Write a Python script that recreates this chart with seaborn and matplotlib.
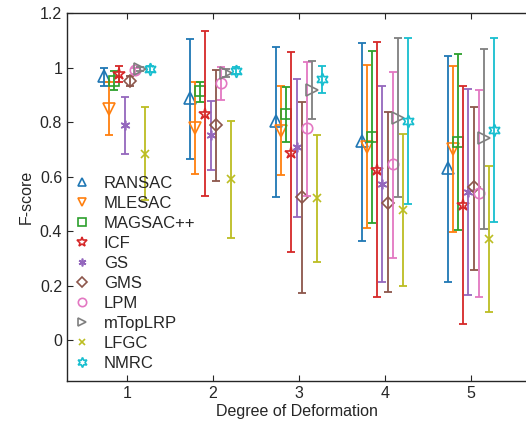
import numpy as np
import matplotlib
matplotlib.use("Agg")
import matplotlib.pyplot as plt
import seaborn as sns
from matplotlib.lines import Line2D

degrees = [1, 2, 3, 4, 5]
methods = ["RANSAC", "MLESAC", "MAGSAC++", "ICF", "GS", "GMS", "LPM", "mTopLRP", "LFGC", "NMRC"]

ransac_mid = [0.969, 0.888, 0.804, 0.730, 0.631]
ransac_lo = [0.932, 0.664, 0.525, 0.363, 0.213]
ransac_hi = [0.998, 1.104, 1.075, 1.090, 1.042]
mlesac_mid = [0.848, 0.778, 0.767, 0.708, 0.701]
mlesac_lo = [0.752, 0.609, 0.605, 0.411, 0.396]
mlesac_hi = [0.947, 0.947, 0.932, 1.009, 1.006]
magsac_mid = [0.950, 0.914, 0.829, 0.745, 0.727]
magsac_lo = [0.917, 0.873, 0.727, 0.429, 0.404]
magsac_hi = [0.987, 0.947, 0.928, 1.060, 1.050]
icf_mid = [0.976, 0.829, 0.686, 0.624, 0.495]
icf_lo = [0.947, 0.528, 0.323, 0.158, 0.059]
icf_hi = [1.005, 1.134, 1.057, 1.094, 0.932]
gs_mid = [0.788, 0.752, 0.708, 0.572, 0.543]
gs_lo = [0.683, 0.624, 0.451, 0.213, 0.165]
gs_hi = [0.892, 0.877, 0.958, 0.932, 0.921]
gms_mid = [0.950, 0.789, 0.525, 0.503, 0.561]
gms_lo = [0.932, 0.585, 0.172, 0.176, 0.257]
gms_hi = [0.969, 0.991, 0.873, 0.837, 0.855]
lpm_mid = [0.991, 0.943, 0.778, 0.646, 0.539]
lpm_lo = [0.976, 0.881, 0.528, 0.301, 0.158]
lpm_hi = [1.000, 1.002, 1.020, 0.983, 0.917]
mtop_mid = [0.994, 0.980, 0.917, 0.815, 0.741]
mtop_lo = [0.987, 0.965, 0.811, 0.525, 0.407]
mtop_hi = [1.001, 0.994, 1.024, 1.108, 1.068]
lfgc_mid = [0.683, 0.590, 0.521, 0.477, 0.371]
lfgc_lo = [0.514, 0.374, 0.286, 0.198, 0.103]
lfgc_hi = [0.855, 0.804, 0.752, 0.756, 0.639]
nmrc_mid = [0.994, 0.987, 0.958, 0.804, 0.771]
nmrc_lo = [0.983, 0.976, 0.906, 0.499, 0.433]
nmrc_hi = [1.005, 1.002, 1.005, 1.108, 1.108]

mids = [ransac_mid, mlesac_mid, magsac_mid, icf_mid, gs_mid, gms_mid, lpm_mid, mtop_mid, lfgc_mid, nmrc_mid]
los = [ransac_lo, mlesac_lo, magsac_lo, icf_lo, gs_lo, gms_lo, lpm_lo, mtop_lo, lfgc_lo, nmrc_lo]
his = [ransac_hi, mlesac_hi, magsac_hi, icf_hi, gs_hi, gms_hi, lpm_hi, mtop_hi, lfgc_hi, nmrc_hi]

ytick_vals = [0, 0.2, 0.4, 0.6, 0.8, 1, 1.2]
ytick_labels = ["0", "0.2", "0.4", "0.6", "0.8", "1", "1.2"]

sns.set_theme(style="ticks")
plt.rcParams['font.family'] = ['Liberation Sans', 'DejaVu Sans']

palette = sns.color_palette("tab10", 10)
markers = ["^", "v", "s", "*", (6, 2, 0), "D", "o", ">", "x", (6, 1, 0)]
msizes = [8, 8, 7, 9, 7, 6.5, 7.5, 8, 6, 9]

fig = plt.figure(figsize=(5.26, 4.29), dpi=100)
ax = fig.add_axes([67/526, 1-381/429, 1-67/526, (381-13)/429])

for i, name in enumerate(methods):
    off = (i - 4.5) * 0.06
    x = np.array(degrees) + off
    mid = np.array(mids[i]); lo = np.array(los[i]); hi = np.array(his[i])
    ax.errorbar(x, mid, yerr=[mid - lo, hi - mid], fmt="none", ecolor=palette[i],
                elinewidth=1.3, capsize=3.0, capthick=1.3)
    ax.plot(x, mid, linestyle="none", marker=markers[i], markersize=msizes[i],
            markerfacecolor="none", markeredgecolor=palette[i], markeredgewidth=1.2)

ax.set_xlim(0.3, 5.64)
ax.set_ylim(-0.15, 1.2)
ax.set_xticks(degrees)
ax.set_xticklabels([str(d) for d in degrees])
ax.set_yticks(ytick_vals)
ax.set_yticklabels(ytick_labels)
ax.tick_params(direction="in", length=4, width=0.8, labelsize=11.5, colors="#262626",
               top=True, right=False)
for s in ["left", "bottom", "top"]:
    ax.spines[s].set_color("#262626")
    ax.spines[s].set_linewidth(1.0)
ax.spines["right"].set_visible(False)
ax.set_xlabel("Degree of Deformation", fontsize=11.5, color="#262626", labelpad=2)
ax.set_ylabel("F-score", fontsize=11.5, color="#262626", labelpad=4)

handles = [Line2D([0], [0], linestyle="none", marker=markers[i], markersize=msizes[i] * 0.8,
                  markerfacecolor="none", markeredgecolor=palette[i], markeredgewidth=1.2)
           for i in range(len(methods))]
leg = ax.legend(handles, methods, loc="upper left", bbox_to_anchor=(-0.014, 0.588),
                frameon=False, fontsize=12, handlelength=1.2, handletextpad=0.7,
                labelspacing=0.3, borderaxespad=0.3)

fig.savefig("out.png", dpi=100)
